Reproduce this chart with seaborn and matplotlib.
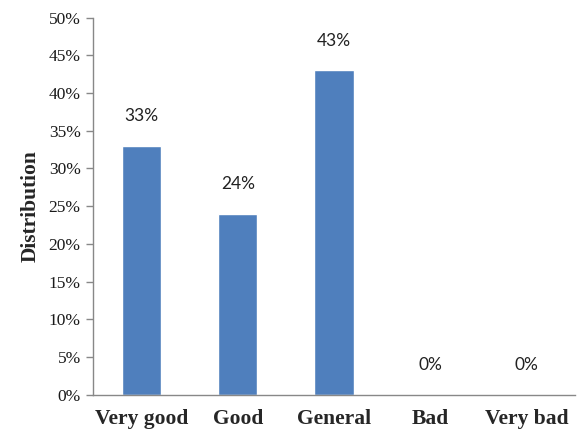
import matplotlib
matplotlib.use("Agg")
import matplotlib.pyplot as plt
import seaborn as sns
import pandas as pd
from matplotlib.ticker import FuncFormatter

categories = ["Very good", "Good", "General", "Bad", "Very bad"]
values = [33, 24, 43, 0, 0]
yticks = [0, 5, 10, 15, 20, 25, 30, 35, 40, 45, 50]

sns.set_theme(style="white")
plt.rcParams["font.family"] = ["Liberation Serif", "DejaVu Serif"]

df = pd.DataFrame({"category": categories, "value": values})

fig = plt.figure(figsize=(5.79, 4.30), dpi=100)
ax = fig.add_axes([0.161, 0.082, 0.832, 0.877])

sns.barplot(data=df, x="category", y="value", color="#4F7FBD",
            saturation=1, width=0.41, ax=ax)

for i, v in enumerate(values):
    ax.text(i, v + 3.9, f"{v}%", ha="center", va="center",
            fontsize=12.5, family=["Lato", "DejaVu Sans"], color="#222222")

ax.set_ylim(0, 50)
ax.set_xlim(-0.5, 4.5)
ax.set_yticks(yticks)
ax.yaxis.set_major_formatter(FuncFormatter(lambda v, p: f"{v:.0f}%"))
ax.tick_params(axis="y", left=True, length=5, width=1, color="#888888",
               labelsize=12.5, pad=4, labelcolor="#1a1a1a")
ax.tick_params(axis="x", bottom=False, labelsize=15.5, pad=4)
for lab in ax.get_xticklabels():
    lab.set_fontweight("bold")

for s in ["top", "right"]:
    ax.spines[s].set_visible(False)
for s in ["left", "bottom"]:
    ax.spines[s].set_color("#888888")
    ax.spines[s].set_linewidth(1)

ax.set_xlabel("")
ax.set_ylabel("Distribution", fontsize=15.5, fontweight="bold", labelpad=6)

fig.savefig("out.png", dpi=100, facecolor="white")
